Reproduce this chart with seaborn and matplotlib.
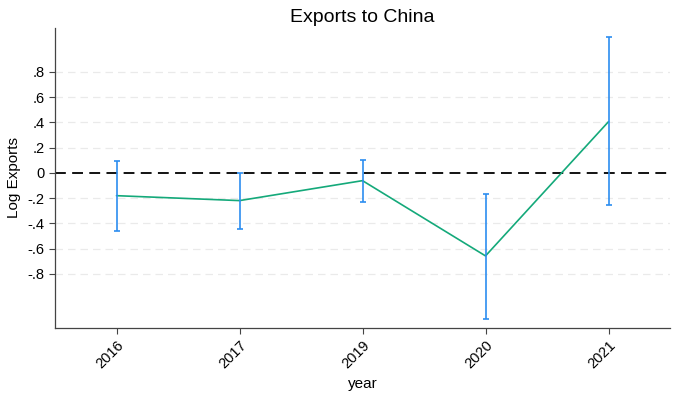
import matplotlib
matplotlib.use("Agg")
import matplotlib.pyplot as plt
import seaborn as sns
import numpy as np
import pandas as pd

years = ["2016", "2017", "2019", "2020", "2021"]
coef = [-0.180, -0.219, -0.061, -0.657, 0.406]
ci_low = [-0.457, -0.441, -0.227, -1.159, -0.251]
ci_high = [0.095, 0.002, 0.103, -0.169, 1.075]
yticks = [-0.8, -0.6, -0.4, -0.2, 0.0, 0.2, 0.4, 0.6, 0.8]

sns.set_style("white")
plt.rcParams['font.family'] = ['Liberation Sans', 'DejaVu Sans']
plt.rcParams['text.color'] = 'black'
plt.rcParams['axes.labelcolor'] = 'black'
plt.rcParams['xtick.color'] = 'black'
plt.rcParams['ytick.color'] = 'black'

df = pd.DataFrame({"year": years, "pos": np.arange(len(years)), "coef": coef,
                   "lo": ci_low, "hi": ci_high})

fig = plt.figure(figsize=(6.78, 4.0), dpi=100)
ax = fig.add_axes([55/678, 72/400, 615/678, 300/400])

for t in yticks:
    if abs(t) > 1e-9:
        ax.axhline(t, color="#EAEAEA", lw=0.9, ls=(0, (6, 4)), zorder=0)
ax.axhline(0, color="black", lw=1.3, ls=(0, (6, 3.5)), zorder=1)

sns.lineplot(data=df, x="pos", y="coef", color="#14A97A", lw=1.2, ax=ax, zorder=2)
ax.errorbar(df["pos"], df["coef"],
            yerr=[df["coef"] - df["lo"], df["hi"] - df["coef"]],
            fmt="none", ecolor="#2C8DF0", elinewidth=1.2, capsize=2.0,
            capthick=1.2, zorder=3)

ax.set_xlim(-0.5, len(years) - 0.5)
ax.set_ylim(-1.228, 1.148)

def stata_fmt(v):
    if abs(v) < 1e-9:
        return "0"
    s = f"{v:.1f}"
    return s.replace("0.", ".")

ax.set_yticks(yticks)
ax.set_yticklabels([stata_fmt(v) for v in yticks], fontsize=10.5)
ax.set_xticks(df["pos"])
ax.set_xticklabels(years, rotation=45, ha="right", rotation_mode="anchor", fontsize=10.5)

ax.tick_params(axis="both", direction="out", length=4.3, width=0.8, color="#444444",
               left=True, bottom=True, pad=3)

for s in ["top", "right"]:
    ax.spines[s].set_visible(False)
for s in ["left", "bottom"]:
    ax.spines[s].set_color("#444444")
    ax.spines[s].set_linewidth(0.9)

ax.set_xlabel("year", fontsize=11, labelpad=4)
ax.set_ylabel("Log Exports", fontsize=11, labelpad=5)
ax.set_title("Exports to China", fontsize=14, pad=4)

fig.savefig("out.png", dpi=100)
